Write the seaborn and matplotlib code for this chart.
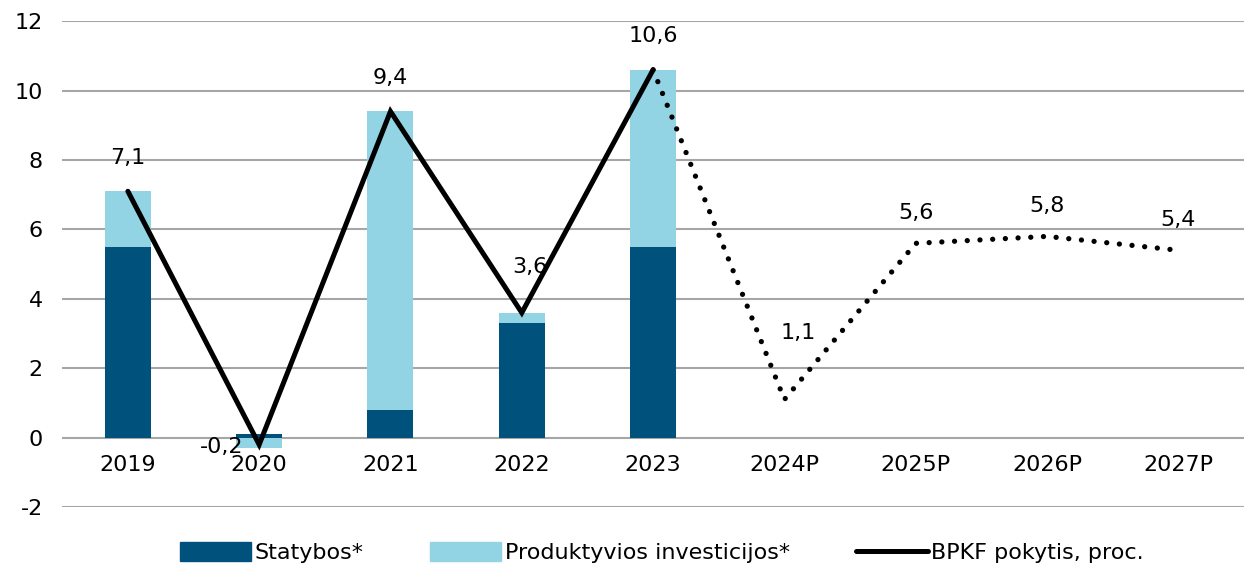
import numpy as np
import pandas as pd
import matplotlib
matplotlib.use('Agg')
import matplotlib.pyplot as plt
import seaborn as sns
from matplotlib.patches import Patch
from matplotlib.lines import Line2D

# %% data
years = ['2019', '2020', '2021', '2022', '2023', '2024P', '2025P', '2026P', '2027P']
statybos = [5.5, 0.1, 0.8, 3.3, 5.5, np.nan, np.nan, np.nan, np.nan]
produktyvios = [1.6, -0.3, 8.6, 0.3, 5.1, np.nan, np.nan, np.nan, np.nan]
bpkf = [7.1, -0.2, 9.4, 3.6, 10.6, 1.1, 5.6, 5.8, 5.4]
n_actual = 5  # 2019-2023 faktas, toliau prognozė

dark = '#00527C'
light = '#92D4E3'

sns.set_theme(style='white')
plt.rcParams['font.family'] = ['DejaVu Sans']
plt.rcParams['axes.unicode_minus'] = False
plt.rcParams['text.color'] = 'black'
plt.rcParams['ytick.color'] = 'black'

df = pd.DataFrame({'year': years, 'statybos': statybos, 'produktyvios': produktyvios})
# light layer drawn first up to the stack top (negative parts start at 0)
df['light_top'] = np.where(df['produktyvios'] > 0, df['statybos'] + df['produktyvios'], df['produktyvios'])

fig = plt.figure(figsize=(12.44, 5.73), dpi=100)
ax = fig.add_axes([0.05, 0.115, 0.95, 0.848])

sns.barplot(data=df, x='year', y='light_top', order=years, color=light, width=0.35,
            saturation=1, linewidth=0, edgecolor='none', ax=ax, zorder=2)
sns.barplot(data=df, x='year', y='statybos', order=years, color=dark, width=0.35,
            saturation=1, linewidth=0, edgecolor='none', ax=ax, zorder=3)

pos = np.arange(len(years))
sns.lineplot(x=pos[:n_actual], y=bpkf[:n_actual], color='black', linewidth=3.6,
             ax=ax, zorder=4, solid_capstyle='round', solid_joinstyle='miter')
sns.lineplot(x=pos[n_actual - 1:], y=bpkf[n_actual - 1:], color='black', linewidth=3.8,
             linestyle=(0, (0.01, 2.4)), dash_capstyle='round', ax=ax, zorder=4)

# data labels
offsets = [(0, 24), (-27, -2), (0, 24), (6, 33), (0, 24), (10, 48), (0, 22), (0, 22), (0, 22)]
for i, v in enumerate(bpkf):
    dx, dy = offsets[i]
    ax.annotate(f'{v:.1f}'.replace('.', ','), (pos[i], v), xytext=(dx, dy),
                textcoords='offset points', ha='center', va='center', fontsize=16,
                color='black', zorder=5)

ax.set_xlim(-0.5, len(years) - 0.5)
ax.set_ylim(-2, 12)
ax.set_yticks(range(-2, 13, 2))
ax.yaxis.grid(True, color='#A6A6A6', linewidth=1.5)
ax.set_axisbelow(True)
for s in ax.spines.values():
    s.set_visible(False)
ax.tick_params(axis='y', labelsize=16, pad=14, length=0, labelcolor='black')
ax.set_xticks([])
ax.set_xlabel('')
ax.set_ylabel('')
for i, y in enumerate(years):
    ax.text(pos[i], -0.5, y, ha='center', va='top', fontsize=16, color='black')

handles = [Patch(color=dark, label='Statybos*'),
           Patch(color=light, label='Produktyvios investicijos*'),
           Line2D([0], [0], color='black', linewidth=3.6, label='BPKF pokytis, proc.')]
fig.legend(handles=handles, loc='lower center', bbox_to_anchor=(0.532, -0.018), ncol=3,
           frameon=False, fontsize=16, handlelength=3.2, handleheight=0.9,
           handletextpad=0.15, columnspacing=3.0, labelcolor='black')

fig.savefig('out.png', dpi=100)
